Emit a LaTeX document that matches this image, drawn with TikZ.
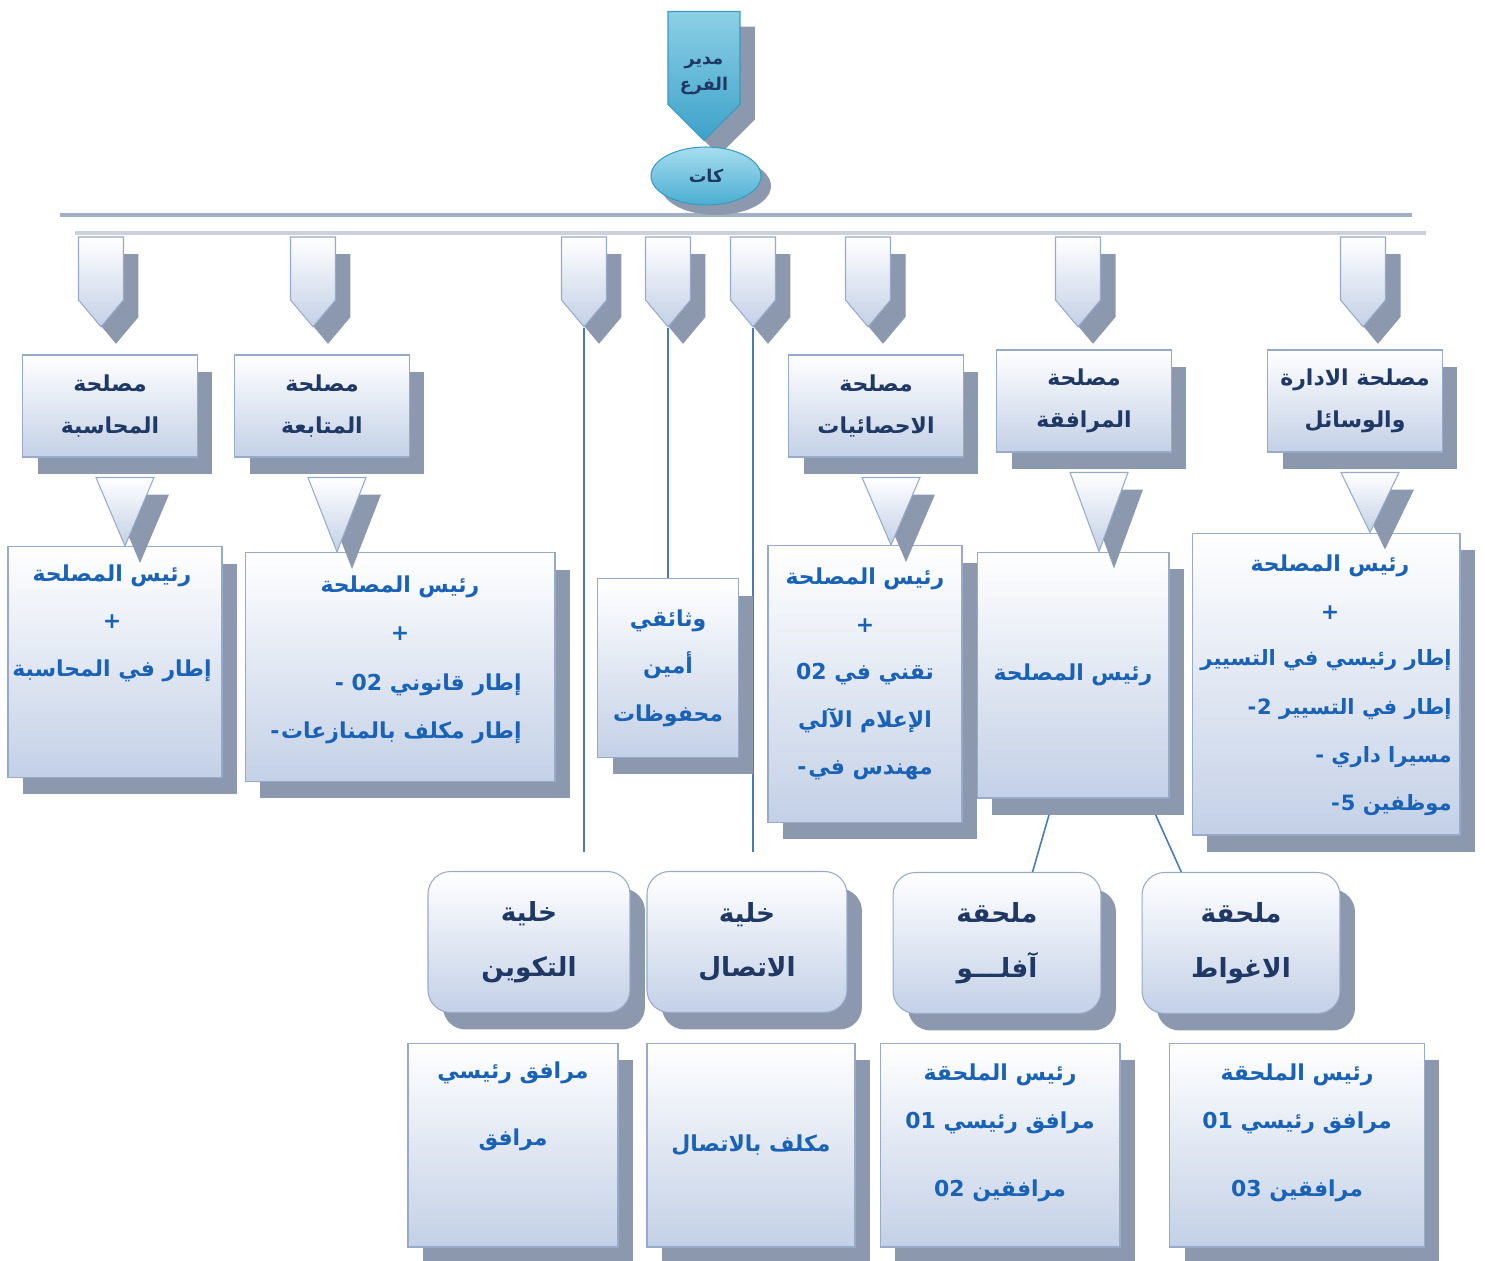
\documentclass[tikz,border=0pt]{standalone}
\usepackage{fontspec}
\usepackage{tikz}
\usetikzlibrary{shapes.geometric,shapes.symbols,shadows,calc}
\TeXXeTstate=1
\newfontfamily\arabicfont[Script=Arabic]{DejaVu Sans}
\newcommand{\arl}[1]{\beginR #1\endR}

\definecolor{boxblue}{HTML}{C3D0E6}
\definecolor{boxline}{HTML}{97AACA}
\definecolor{shadowgray}{HTML}{8C98AD}
\definecolor{navytext}{HTML}{1F3864}
\definecolor{stafftext}{HTML}{1A62B6}
\definecolor{headtop}{HTML}{8CCFE5}
\definecolor{headbot}{HTML}{3DA2CA}
\definecolor{headline}{HTML}{3A9AC0}
\definecolor{celltop}{HTML}{A6DDEE}
\definecolor{cellbot}{HTML}{4AAED2}
\definecolor{busline}{HTML}{A2AFC4}
\definecolor{busshade}{HTML}{CBD2DD}
\definecolor{linkblue}{HTML}{4A78B8}

\pgfdeclarelayer{bg}
\pgfsetlayers{bg,main}

\tikzset{
  shad/.style={drop shadow={shadow xshift=0.3cm, shadow yshift=-0.34cm, fill=shadowgray, opacity=1}},
  plainbox/.style={draw=boxline, line width=0.6pt, top color=white, bottom color=boxblue, shad, inner sep=2pt},
  svcbox/.style={plainbox, minimum width=3.5cm, minimum height=2.04cm, text=navytext,
    font=\arabicfont\bfseries\fontsize{12.5}{24}\selectfont, align=center},
  staffbox/.style={plainbox, text=stafftext,
    font=\arabicfont\bfseries\fontsize{12.5}{27}\selectfont, align=center},
  stafftxt/.style={text=stafftext, font=\arabicfont\bfseries\fontsize{12.5}{27}\selectfont,
    align=center, inner sep=0pt},
  cellbox/.style={plainbox, rounded corners=0.45cm, minimum width=4cm, minimum height=2.82cm,
    text=navytext, font=\arabicfont\bfseries\fontsize{15}{31}\selectfont, align=center},
  chev/.style={signal, signal to=south, signal pointer angle=80, draw=boxline, line width=0.6pt,
    top color=white, bottom color=boxblue, shad, minimum width=0.9cm, minimum height=1.26cm, inner sep=0pt},
  headsig/.style={signal, signal to=south, signal pointer angle=90, draw=headline, line width=0.6pt,
    top color=headtop, bottom color=headbot,
    drop shadow={shadow xshift=0.3cm, shadow yshift=-0.3cm, fill=shadowgray, opacity=1},
    minimum width=1.44cm, minimum height=1.86cm, inner sep=0pt},
  headtxt/.style={text=navytext, font=\arabicfont\bfseries\fontsize{10}{15}\selectfont,
    align=center, inner sep=0pt},
  secell/.style={ellipse, draw=headline, line width=0.6pt, top color=celltop, bottom color=cellbot,
    drop shadow={shadow xshift=0.2cm, shadow yshift=-0.2cm, fill=shadowgray, opacity=1},
    minimum width=2.2cm, minimum height=1.16cm, text=navytext,
    font=\arabicfont\bfseries\fontsize{10}{14}\selectfont},
  tri/.style={draw=boxline, line width=0.6pt, top color=white, bottom color=boxblue, shad},
  link/.style={draw=linkblue, line width=0.9pt},
  bus/.style={draw=busline, line width=2pt},
  busshadow/.style={draw=busshade, line width=2pt}
}

\begin{document}
\begin{tikzpicture}[x=0.02cm,y=-0.02cm]
\useasboundingbox (0,0) rectangle (1485,1261);

% bus line
\coordinate (busL) at (60,215);
\coordinate (busR) at (1412,215);
\coordinate (busL2) at (75,233);
\coordinate (busR2) at (1426,233);
\draw[busshadow] (busL2) -- (busR2);
\draw[bus] (busL) -- (busR);

% head
\node[headsig] (dir) at (704,58) {};
\node[headtxt] (dir-t) at (704,76) {\arl{مدير}\\\arl{الفرع}};
\node[secell] (sec) at (706,176) {\arl{كات}};

% chevrons under the bus
\foreach \x [count=\i] in {101,313,584,668,753,868,1078,1363}
  \node[chev] (ch\i) at (\x,268.5) {};

\coordinate (trnend) at (584,852);
\coordinate (comend) at (753,852);
\draw[link] (ch3.south) -- (trnend);
\draw[link] (ch5.south) -- (comend);

% services
\node[svcbox] (acc) at (110,406) {\arl{مصلحة}\\\arl{المحاسبة}};
\node[svcbox] (fol) at (322,406) {\arl{مصلحة}\\\arl{المتابعة}};
\node[svcbox] (sta) at (876,406) {\arl{مصلحة}\\\arl{الاحصائيات}};
\node[svcbox] (sup) at (1084,401) {\arl{مصلحة}\\\arl{المرافقة}};
\node[svcbox] (adm) at (1355,401) {\arl{مصلحة الادارة}\\\arl{والوسائل}};

% staff of each service
\node[staffbox, minimum width=4.28cm, minimum height=4.62cm] (accst) at (115,662) {};
\node[stafftxt] (accst-t) at (112,623) {\arl{رئيس المصلحة}\\+\\\arl{إطار في المحاسبة}};

\node[staffbox, minimum width=6.2cm, minimum height=4.58cm] (folst) at (400,667) {};
\node[stafftxt] (folst-h) at (400,608) {\arl{رئيس المصلحة}\\+};
\node[stafftxt, anchor=east, align=right] (folst-b) at (522,709)
  {\arl{إطار قانوني 02 -}\\\arl{إطار مكلف بالمنازعات\kern1pt-}};

\node[staffbox, minimum width=2.82cm, minimum height=3.58cm] (arch) at (668,668)
  {\arl{وثائقي}\\\arl{أمين}\\\arl{محفوظات}};
\draw[link] (ch4.south) -- (arch.north);

\node[staffbox, minimum width=3.88cm, minimum height=5.54cm] (stast) at (865,684) {};
\node[stafftxt] (stast-t) at (865,674)
  {\arl{رئيس المصلحة}\\+\\\arl{تقني في 02}\\\arl{الإعلام الآلي}\\\arl{مهندس في\kern1pt-}};

\node[staffbox, minimum width=3.84cm, minimum height=4.92cm] (supst) at (1073,675) {\arl{رئيس المصلحة}};

\node[staffbox, minimum width=5.36cm, minimum height=6.04cm] (admst) at (1326,684) {};
\node[stafftxt] (admst-h) at (1330,587) {\arl{رئيس المصلحة}\\+};
\node[stafftxt, anchor=east, align=right, font=\arabicfont\bfseries\fontsize{12}{27.5}\selectfont]
  (admst-b) at (1452,733)
  {\arl{إطار رئيسي في التسيير}\\\arl{إطار في التسيير \beginL-\kern0.5pt2\endL}\\\arl{مسيرا داري -}\\\arl{موظفين \beginL-\kern0.5pt5\endL}};

% funnels from each service to its staff
\foreach \s/\t in {acc/accst,fol/folst,sta/stast,sup/supst,adm/admst}
  \path[tri] ($(\s.south)+(-14,20)$) -- ($(\s.south)+(44,20)$) -- ($(\s.south |- \t.north)+(15,0)$) -- cycle;

% cells and annexes
\node[cellbox, minimum width=4.04cm] (trn) at (529,942) {\arl{خلية}\\\arl{التكوين}};
\node[cellbox] (com) at (747,942) {\arl{خلية}\\\arl{الاتصال}};
\node[cellbox, minimum width=4.16cm] (afl) at (997,943) {\arl{ملحقة}\\\arl{آفلـــو}};
\node[cellbox, minimum width=3.96cm] (lag) at (1241,943) {\arl{ملحقة}\\\arl{الاغواط}};

\begin{pgfonlayer}{bg}
  \draw[link] ($(supst.south west)!0.4!(supst.south east)$) -- ($(afl.north west)!0.67!(afl.north east)$);
  \draw[link] ($(supst.south west)!0.89!(supst.south east)$) -- ($(lag.north west)!0.2!(lag.north east)$);
\end{pgfonlayer}

% bottom row
\node[staffbox, minimum width=4.2cm, minimum height=4.08cm] (trnst) at (513,1145) {};
\node[stafftxt, font=\arabicfont\bfseries\fontsize{12.5}{38}\selectfont] (trnst-t) at (513,1106)
  {\arl{مرافق رئيسي}\\\arl{مرافق}};
\node[staffbox, minimum width=4.16cm, minimum height=4.08cm] (comst) at (751,1145) {\arl{مكلف بالاتصال}};
\node[staffbox, minimum width=4.8cm, minimum height=4.08cm] (aflst) at (1000,1145) {};
\node[stafftxt] (aflst-t) at (1000,1133)
  {\arl{رئيس الملحقة}\\\arl{مرافق رئيسي 01}\\[0.42cm]\arl{مرافقين 02}};
\node[staffbox, minimum width=5.1cm, minimum height=4.08cm] (lagst) at (1297,1145) {};
\node[stafftxt] (lagst-t) at (1297,1133)
  {\arl{رئيس الملحقة}\\\arl{مرافق رئيسي 01}\\[0.42cm]\arl{مرافقين 03}};
\end{tikzpicture}
\end{document}
